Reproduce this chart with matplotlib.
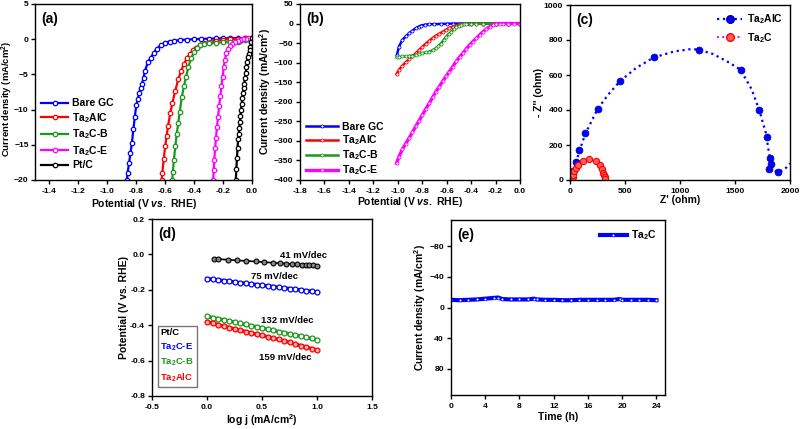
import matplotlib
matplotlib.use('Agg')
import matplotlib.pyplot as plt
from matplotlib.lines import Line2D

plt.rcParams.update({
    'font.family': ['Liberation Sans', 'DejaVu Sans'],
    'font.weight': 'bold',
    'axes.labelweight': 'bold',
    'mathtext.fontset': 'custom',
    'mathtext.rm': 'Liberation Sans:bold',
    'mathtext.bf': 'Liberation Sans:bold',
    'mathtext.it': 'Liberation Sans:italic:bold',
    'mathtext.default': 'rm',
    'axes.linewidth': 1.0,
    'xtick.major.size': 3, 'ytick.major.size': 3,
    'xtick.major.width': 1.0, 'ytick.major.width': 1.0,
    'xtick.major.pad': 2.5, 'ytick.major.pad': 2.0,
    'xtick.labelsize': 6.1, 'ytick.labelsize': 6.1,
    'axes.labelsize': 7.5,
})

BLUE, RED, GREEN, MAG, BLACK = '#0000FF', '#FF0000', '#1A9A1A', '#FF00FF', '#000000'

# ---------------- (a) LSV ----------------
a_labels = ['Bare GC', 'Ta$_2$AlC', 'Ta$_2$C-B', 'Ta$_2$C-E', 'Pt/C']
a_bare_x = [0.0, -0.05, -0.1, -0.15, -0.2, -0.25, -0.3, -0.35, -0.4, -0.45, -0.5, -0.54, -0.57, -0.6, -0.63, -0.66, -0.68, -0.7, -0.72, -0.74, -0.75, -0.76, -0.77, -0.78, -0.79, -0.80, -0.81, -0.82, -0.83, -0.84, -0.85, -0.86, -0.865]
a_bare_y = [0.15, 0.15, 0.15, 0.15, 0.12, 0.1, 0.08, 0.05, 0.0, -0.05, -0.12, -0.23, -0.33, -0.5, -0.85, -1.4, -2.0, -2.6, -3.3, -4.5, -5.5, -6.3, -7.0, -7.7, -8.5, -9.4, -11.0, -12.8, -14.7, -16.2, -17.6, -19.0, -20.0]
a_alc_x = [0.0, -0.05, -0.1, -0.15, -0.2, -0.25, -0.29, -0.33, -0.36, -0.39, -0.41, -0.43, -0.45, -0.47, -0.49, -0.51, -0.53, -0.55, -0.565, -0.58, -0.59, -0.60, -0.61, -0.62, -0.624]
a_alc_y = [0.1, 0.1, 0.05, 0.0, -0.05, -0.2, -0.4, -0.6, -0.85, -1.2, -1.6, -2.1, -2.7, -3.5, -4.5, -5.7, -7.3, -9.0, -10.5, -12.3, -13.7, -15.2, -17.0, -19.0, -20.0]
a_b_x = [0.0, -0.03, -0.05, -0.08, -0.1, -0.15, -0.2, -0.25, -0.3, -0.33, -0.36, -0.38, -0.40, -0.42, -0.44, -0.455, -0.47, -0.485, -0.5, -0.51, -0.52, -0.53, -0.54, -0.547, -0.551]
a_b_y = [0.1, 0.0, -0.1, -0.25, -0.35, -0.42, -0.45, -0.48, -0.55, -0.65, -0.85, -1.2, -1.8, -2.7, -3.9, -5.3, -6.6, -8.2, -10.4, -11.9, -13.4, -15.2, -17.2, -18.8, -20.0]
a_e_x = [0.0, -0.02, -0.04, -0.06, -0.08, -0.1, -0.12, -0.135, -0.15, -0.165, -0.177, -0.187, -0.195, -0.203, -0.211, -0.219, -0.227, -0.235, -0.242, -0.249, -0.255, -0.261, -0.265, -0.268]
a_e_y = [0.1, 0.1, 0.05, 0.0, -0.1, -0.25, -0.45, -0.65, -0.95, -1.4, -2.0, -2.9, -3.9, -5.3, -6.7, -8.1, -9.5, -11.0, -12.5, -14.0, -15.5, -17.2, -18.6, -20.0]
a_pt_x = [0.0, -0.005, -0.011, -0.017, -0.023, -0.028, -0.034, -0.039, -0.044, -0.049, -0.054, -0.058, -0.062, -0.067, -0.071, -0.076, -0.08, -0.084, -0.088, -0.092, -0.096, -0.1, -0.104, -0.108, -0.112]
a_pt_y = [0.2, -0.4, -1.07, -1.6, -2.1, -2.5, -3.3, -4.0, -4.8, -5.5, -6.3, -7.0, -7.6, -8.4, -9.2, -10.0, -10.9, -11.7, -12.6, -13.4, -14.2, -15.5, -16.9, -18.4, -20.0]
a_xticks = [-1.4, -1.2, -1.0, -0.8, -0.6, -0.4, -0.2, 0.0]
a_yticks = [-20, -15, -10, -5, 0, 5]

# ---------------- (b) LSV wide ----------------
b_labels = ['Bare GC', 'Ta$_2$AlC', 'Ta$_2$C-B', 'Ta$_2$C-E']
b_bare_x = [-1.007, -0.99, -0.963, -0.935, -0.908, -0.88, -0.853, -0.83, -0.81, -0.78, -0.743, -0.7, -0.65, -0.6, -0.55, -0.5, -0.4, -0.3, -0.2, -0.1, 0.0]
b_bare_y = [-80, -59, -42, -33, -25, -18, -12, -8, -5, -3, -2, -1.5, -1, -0.5, 0, 0, 0, 0, 0, 0, 0]
b_alc_x = [-1.01, -0.99, -0.963, -0.935, -0.908, -0.88, -0.853, -0.825, -0.798, -0.77, -0.743, -0.715, -0.688, -0.66, -0.633, -0.605, -0.578, -0.55, -0.523, -0.495, -0.468, -0.42, -0.358, -0.3, -0.2, -0.1, 0.0]
b_alc_y = [-129, -118, -108, -99, -91, -83, -76, -67, -59, -51, -44, -37, -31, -26, -21, -16, -11, -8, -5, -3, -1, -0.5, 0, 0, 0, 0, 0]
b_b_x = [-1.01, -0.99, -0.963, -0.935, -0.908, -0.88, -0.853, -0.825, -0.798, -0.77, -0.743, -0.715, -0.688, -0.667, -0.647, -0.625, -0.605, -0.585, -0.564, -0.543, -0.523, -0.5, -0.482, -0.46, -0.44, -0.4, -0.358, -0.3, -0.2, -0.1, 0.0]
b_b_y = [-86, -86, -84, -84, -83, -82, -80, -78, -76, -74, -72, -68, -63, -57, -51, -42, -34, -27, -21, -15, -10, -6, -4, -2, -1, -0.5, 0, 0, 0, 0, 0]
b_e_x = [-1.01, -0.99, -0.963, -0.935, -0.908, -0.88, -0.853, -0.825, -0.798, -0.77, -0.743, -0.715, -0.688, -0.66, -0.633, -0.605, -0.578, -0.55, -0.523, -0.495, -0.468, -0.44, -0.413, -0.385, -0.358, -0.33, -0.303, -0.275, -0.248, -0.22, -0.193, -0.165, -0.138, -0.1, -0.05, 0.0]
b_e_y = [-357, -340, -322, -307, -293, -278, -263, -248, -233, -218, -204, -189, -174, -161, -148, -135, -123, -110, -97, -86, -76, -65, -55, -46, -38, -29, -21, -14, -8, -4, -1, 0, 0, 0, 0, 0]
b_xticks = [-1.8, -1.6, -1.4, -1.2, -1.0, -0.8, -0.6, -0.4, -0.2, 0.0]
b_yticks = [-400, -350, -300, -250, -200, -150, -100, -50, 0, 50]

# ---------------- (c) Nyquist ----------------
c_labels = ['Ta$_2$AlC', 'Ta$_2$C']
c_alc_zr = [30, 57, 85, 140, 250, 455, 760, 1170, 1550, 1720, 1790, 1820, 1830, 1810, 1890]
c_alc_zi = [50, 103, 170, 270, 405, 565, 700, 745, 630, 400, 245, 125, 90, 65, 45]
c_alc_fit_zr = [20, 30, 55, 85, 140, 250, 350, 455, 600, 760, 950, 1100, 1170, 1300, 1450, 1550, 1650, 1720, 1780, 1810, 1830, 1860, 1890, 1950, 2000]
c_alc_fit_zi = [0, 40, 100, 165, 265, 405, 490, 565, 640, 700, 735, 748, 745, 720, 670, 630, 520, 400, 270, 150, 80, 55, 45, 60, 95]
c_t_zr = [20, 25, 30, 40, 55, 75, 115, 175, 235, 270, 290, 303, 310, 315, 318]
c_t_zi = [5, 15, 28, 50, 70, 85, 108, 118, 107, 85, 62, 42, 28, 15, 5]
c_xticks = [0, 500, 1000, 1500, 2000]
c_yticks = [0, 200, 400, 600, 800, 1000]

# ---------------- (d) Tafel ----------------
d_labels = ['Pt/C', 'Ta$_2$C-E', 'Ta$_2$C-B', 'Ta$_2$AlC']
d_slopes = ['41 mV/dec', '75 mV/dec', '132 mV/dec', '159 mV/dec']
d_pt_x = [0.06, 0.104, 0.194, 0.275, 0.358, 0.442, 0.522, 0.597, 0.663, 0.722, 0.776, 0.821, 0.860, 0.896, 0.931, 0.964, 1.0]
d_pt_y = [-0.025, -0.027, -0.030, -0.034, -0.037, -0.040, -0.044, -0.047, -0.050, -0.052, -0.054, -0.056, -0.058, -0.059, -0.061, -0.062, -0.064]
d_x = [0.0, 0.05, 0.1, 0.15, 0.2, 0.25, 0.3, 0.35, 0.4, 0.45, 0.5, 0.55, 0.6, 0.65, 0.7, 0.75, 0.8, 0.85, 0.9, 0.95, 1.0]
d_e_y = [-0.137, -0.141, -0.145, -0.148, -0.152, -0.156, -0.160, -0.163, -0.167, -0.171, -0.175, -0.178, -0.182, -0.186, -0.190, -0.193, -0.197, -0.201, -0.205, -0.208, -0.212]
d_b_y = [-0.350, -0.357, -0.363, -0.370, -0.376, -0.383, -0.390, -0.396, -0.403, -0.409, -0.416, -0.423, -0.429, -0.436, -0.442, -0.449, -0.456, -0.462, -0.469, -0.475, -0.482]
d_alc_y = [-0.380, -0.389, -0.397, -0.405, -0.413, -0.421, -0.428, -0.436, -0.443, -0.451, -0.458, -0.466, -0.473, -0.480, -0.488, -0.497, -0.506, -0.515, -0.523, -0.532, -0.540]
d_xticks = [-0.5, 0.0, 0.5, 1.0, 1.5]
d_yticks = [-0.8, -0.6, -0.4, -0.2, 0.0, 0.2]

# ---------------- (e) stability ----------------
e_label = 'Ta$_2$C'
e_t = [0, 1, 2, 3, 4, 5, 5.5, 6, 7, 8, 9, 9.7, 10, 11, 12, 13, 14, 15, 16, 17, 18, 19, 19.7, 20, 21, 22, 23, 24]
e_j = [-10, -9.5, -10, -10.5, -11.5, -12.5, -13, -11, -10.5, -10.5, -10.5, -11.5, -10.5, -10, -10, -9.5, -9.5, -10, -10, -10, -10, -10, -11, -10, -10, -10, -10, -9.5]
e_xticks = [0, 4, 8, 12, 16, 20, 24]
e_yticks = [-80, -40, 0, 40, 80]

W, H = 800, 429
fig = plt.figure(figsize=(8, 4.29), dpi=100)

def add_ax(l, r, t, b):
    return fig.add_axes([l / W, 1 - b / H, (r - l) / W, (b - t) / H])

axA = add_ax(35, 252, 4, 180)
axB = add_ax(300, 520, 4, 180)
axC = add_ax(570, 790, 5, 180)
axD = add_ax(152, 372, 219, 396)
axE = add_ax(451, 665, 220, 395)

def panel(ax, s):
    ax.text(0.03, 0.955, s, transform=ax.transAxes, fontsize=10, fontweight='bold', va='top', ha='left')

vs_label = 'Potential (V $\\mathit{vs.}$ RHE)'
cd_label = 'Current density (mA/cm$^{2}$)'

# (a)
for xs, ys, c, lab in [(a_bare_x, a_bare_y, BLUE, a_labels[0]), (a_alc_x, a_alc_y, RED, a_labels[1]),
                       (a_b_x, a_b_y, GREEN, a_labels[2]), (a_e_x, a_e_y, MAG, a_labels[3]),
                       (a_pt_x, a_pt_y, BLACK, a_labels[4])]:
    axA.plot(xs, ys, '-', color=c, lw=1.6, marker='o', ms=3.2, mfc='white', mec=c, mew=0.9, label=lab)
axA.set_xlim(-1.5, 0.0)
axA.set_ylim(-20, 5)
axA.set_xticks(a_xticks)
axA.set_xticklabels([f'{v:.1f}' for v in a_xticks])
axA.set_yticks(a_yticks)
axA.tick_params(axis='y', pad=1.5)
axA.set_xlabel(vs_label, labelpad=2)
axA.set_ylabel(cd_label, fontsize=6.8)
axA.yaxis.set_label_coords(-0.09, 0.46)
axA.legend(loc='lower left', bbox_to_anchor=(0.0, 0.02), frameon=False, fontsize=7.5,
           handlelength=2.6, handletextpad=0.4, labelspacing=0.25, borderaxespad=0.2)
panel(axA, '(a)')

# (b)
for xs, ys, c, lab, lw in [(b_bare_x, b_bare_y, BLUE, b_labels[0], 1.8), (b_alc_x, b_alc_y, RED, b_labels[1], 1.8),
                           (b_b_x, b_b_y, GREEN, b_labels[2], 1.8), (b_e_x, b_e_y, MAG, b_labels[3], 2.4)]:
    axB.plot(xs, ys, '-', color=c, lw=lw, marker='o', ms=2.2, mfc='white', mec=c, mew=0.6, label=lab)
axB.set_xlim(-1.8, 0.0)
axB.set_ylim(-400, 50)
axB.set_xticks(b_xticks)
axB.set_xticklabels([f'{v:.1f}' for v in b_xticks])
axB.set_yticks(b_yticks)
axB.set_xlabel(vs_label, labelpad=0)
axB.set_ylabel(cd_label, labelpad=0)
axB.legend(loc='lower left', bbox_to_anchor=(0.0, -0.02), frameon=False, fontsize=7.5,
           handlelength=3.0, handletextpad=0.4, labelspacing=0.12, borderaxespad=0.2)
panel(axB, '(b)')

# (c)
axC.plot(c_alc_fit_zr, c_alc_fit_zi, ':', color=BLUE, lw=1.6)
axC.plot(c_alc_zr, c_alc_zi, 'o', color=BLUE, ms=5, mec='#0000AA', mew=0.5)
axC.plot(c_t_zr, c_t_zi, ':', color=MAG, lw=1.4)
axC.plot(c_t_zr, c_t_zi, 'o', color=RED, ms=4.5, mfc='#FF6060', mec=RED, mew=0.8)
hC = [Line2D([], [], ls=':', color=BLUE, lw=1.6, marker='o', ms=5.5, mec='#0000AA'),
      Line2D([], [], ls=':', color=MAG, lw=1.4, marker='o', ms=5.5, mfc='#FF6060', mec=RED)]
axC.legend(hC, c_labels, loc='upper right', frameon=False, fontsize=7.5, handlelength=2.4,
           handletextpad=0.4, labelspacing=0.45, borderaxespad=0.3)
axC.set_xlim(0, 2000)
axC.set_ylim(0, 1000)
axC.set_xticks(c_xticks)
axC.set_yticks(c_yticks)
axC.set_xlabel("Z' (ohm)", labelpad=0)
axC.set_ylabel("- Z'' (ohm)", labelpad=0)
panel(axC, '(c)')

# (d)
axD.plot(d_pt_x, d_pt_y, '-', color=BLACK, lw=1.2, marker='o', ms=3.5, mfc='#888888', mec=BLACK, mew=0.8)
axD.plot(d_x, d_e_y, '-', color=BLUE, lw=2.5, marker='o', ms=3.5, mfc='white', mec=BLUE, mew=0.9)
axD.plot(d_x, d_b_y, '-', color=GREEN, lw=2.5, marker='o', ms=3.5, mfc='white', mec=GREEN, mew=0.9)
axD.plot(d_x, d_alc_y, '-', color=RED, lw=2.5, marker='o', ms=3.5, mfc='#FFB0B0', mec=RED, mew=0.9)
axD.text(0.88, -0.005, d_slopes[0], fontsize=6.8, ha='center', va='center')
axD.text(0.61, -0.127, d_slopes[1], fontsize=6.8, ha='center', va='center')
axD.text(0.73, -0.372, d_slopes[2], fontsize=6.8, ha='center', va='center')
axD.text(0.71, -0.583, d_slopes[3], fontsize=6.8, ha='center', va='center')
hD = [Line2D([], [], ls='none') for _ in d_labels]
legD = axD.legend(hD, d_labels, loc='lower left', bbox_to_anchor=(0.025, 0.05), frameon=True, fontsize=6.8,
                  handlelength=0, handletextpad=0, labelspacing=0.4, borderpad=0.3, fancybox=False,
                  borderaxespad=0.0)
legD.get_frame().set_edgecolor('#555555')
legD.get_frame().set_linewidth(1.0)
for t, c in zip(legD.get_texts(), [BLACK, BLUE, GREEN, RED]):
    t.set_color(c)
axD.set_xlim(-0.5, 1.5)
axD.set_ylim(-0.8, 0.2)
axD.set_xticks(d_xticks)
axD.set_xticklabels([f'{v:.1f}' for v in d_xticks])
axD.set_yticks(d_yticks)
axD.set_yticklabels([f'{v:.1f}' for v in d_yticks])
axD.set_xlabel('log j (mA/cm$^{2}$)', labelpad=1)
axD.set_ylabel('Potential (V vs. RHE)', labelpad=1)
panel(axD, '(d)')

# (e)
axE.plot(e_t, e_j, '-', color=BLUE, lw=3.0, marker='o', ms=2.0, mfc='white', mec=BLUE, mew=0.5, label=e_label)
axE.set_xlim(0, 25)
axE.set_ylim(114, -114)
axE.set_xticks(e_xticks)
axE.set_yticks(e_yticks)
axE.set_xlabel('Time (h)', labelpad=2)
axE.set_ylabel(cd_label, labelpad=1)
axE.legend(loc='upper right', frameon=False, fontsize=7.5, handlelength=2.6, handletextpad=0.4,
           borderaxespad=0.4)
panel(axE, '(e)')

fig.savefig('out.png', dpi=100)
